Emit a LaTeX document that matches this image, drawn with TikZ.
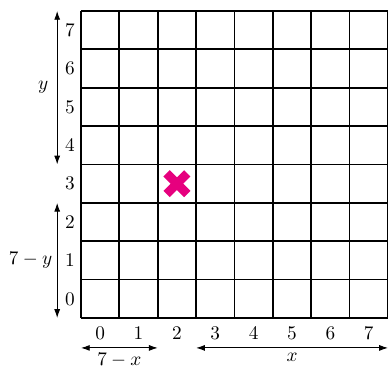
\documentclass[tikz,border=0pt]{standalone}
\usepackage{tikz}
\usetikzlibrary{arrows.meta,positioning,calc}
\definecolor{crossmagenta}{RGB}{230,0,126}

\begin{document}
\begin{tikzpicture}[x=0.7cm,y=0.7cm,>={Latex[length=1.6mm,width=1.1mm]},grid/.style={line width=0.9pt,step=0.7cm},dim/.style={<->,line width=0.5pt},lbl/.style={inner sep=1pt}]
\useasboundingbox (-2.11,-1.276) rectangle (8.0,8.286);
\draw[grid] (0,0) grid (8,8);
\foreach \i in {0,...,7} {
  \node[lbl] (row\i) at (-0.29,\i+0.5) {$\i$};
  \node[lbl] (col\i) at (\i+0.5,-0.39) {$\i$};
}
% vertical arrows
\coordinate (ytop) at (-0.62,8);
\coordinate (ybot) at (-0.62,4);
\coordinate (ntop) at (-0.62,3);
\coordinate (nbot) at (-0.62,0);
\draw[dim] (ytop) -- (ybot) node[midway,left=1pt] (ylbl) {$y$};
\draw[dim] (ntop) -- (nbot) node[midway,left=-1pt] (nylbl) {$7-y$};
% horizontal arrows
\coordinate (xl) at (3,-0.78);
\coordinate (xr) at (8,-0.78);
\coordinate (ml) at (0,-0.78);
\coordinate (mr) at (2,-0.78);
\draw[dim] (ml) -- (mr) node[midway,below=-1pt] (nxlbl) {$7-x$};
\draw[dim] (xl) -- (xr) node[midway,below=-1pt] (xlbl) {$x$};
% the mark
\coordinate (mark) at (2.5,3.5);
\draw[crossmagenta,line width=4.6pt] ($(mark)+(-0.27,-0.27)$) -- ($(mark)+(0.27,0.27)$);
\draw[crossmagenta,line width=4.6pt] ($(mark)+(-0.27,0.27)$) -- ($(mark)+(0.27,-0.27)$);
\end{tikzpicture}
\end{document}
